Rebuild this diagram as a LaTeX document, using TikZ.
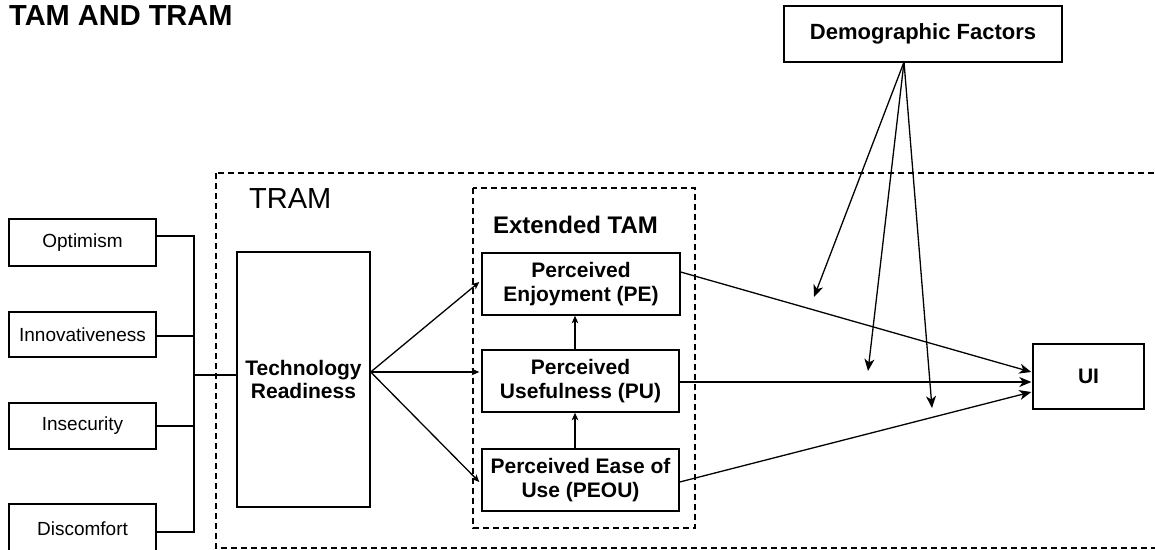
\documentclass[tikz,border=0pt]{standalone}
\usepackage{fontspec}
\setmainfont{Liberation Sans}
\usetikzlibrary{arrows.meta,calc}
\begin{document}
\begin{tikzpicture}[x=1pt,y=-1pt,
  box/.style={draw,line width=1.4pt,inner sep=0pt,align=center,
    font=\fontsize{21}{23.5}\selectfont\bfseries},
  factor/.style={draw,line width=1.4pt,inner sep=0pt,minimum width=147pt,
    font=\fontsize{19}{22}\selectfont},
  frame/.style={line width=1.1pt,dash pattern=on 6pt off 4pt},
  link/.style={line width=1.3pt},
  small/.style={link,-{Stealth[length=7.5pt,width=6.5pt,inset=2pt]}},
  big/.style={link,-{Stealth[length=12pt,width=10pt,inset=3.5pt]}}]
\clip (0,0) rectangle (1155,549);

% title and frames
\node[anchor=base west,inner sep=0pt,font=\fontsize{29}{32}\selectfont\bfseries] (title) at (9,25) {TAM AND TRAM};
\draw[frame] (216,173) rectangle (1175,548);
\node[anchor=base west,inner sep=0pt,font=\fontsize{29}{32}\selectfont] (tram) at (249,208) {TRAM};
\draw[frame] (473,188) rectangle (695,528);
\node[anchor=base,inner sep=0pt,font=\fontsize{24}{26}\selectfont\bfseries] (etam) at (575.5,233) {Extended TAM};

% technology readiness dimensions
\node[factor,minimum height=47pt] (opt) at (82.5,242.5) {Optimism};
\node[factor,minimum height=45pt] (inn) at (82.5,334.5) {Innovativeness};
\node[factor,minimum height=46pt] (ins) at (82.5,426) {Insecurity};
\node[factor,minimum height=50pt] (dis) at (82.5,529) {Discomfort};

% model constructs
\node[box,minimum width=133pt,minimum height=255pt] (tr) at (303.5,379.5) {Technology\\Readiness};
\node[box,minimum width=198pt,minimum height=62pt] (pe) at (581,284) {Perceived\\Enjoyment (PE)};
\node[box,minimum width=197pt,minimum height=62pt] (pu) at (580.5,381) {Perceived\\Usefulness (PU)};
\node[box,minimum width=197pt,minimum height=62pt] (peou) at (580.5,480) {Perceived Ease of\\Use (PEOU)};
\node[box,minimum width=111pt,minimum height=65pt] (ui) at (1088.5,376.5) {UI};
\node[box,minimum width=278pt,minimum height=56pt,font=\fontsize{22}{24}\selectfont\bfseries] (demo) at (923,34) {Demographic Factors};

% bracket joining the four dimensions
\coordinate (b1) at (194,236);
\coordinate (b2) at (194,336);
\coordinate (b3) at (194,426);
\coordinate (b4) at (194,532);
\coordinate (bm) at (194,375);
\draw[link] (opt.east |- b1) -- (b1) -- (b4) -- (dis.east |- b4);
\draw[link] (inn.east |- b2) -- (b2);
\draw[link] (ins.east |- b3) -- (b3);
\draw[link] (bm) -- (tr.west |- bm);

% readiness to the extended TAM
\coordinate (tro) at ($(tr.east)+(0,-7.5)$);
\draw[small] (tro) -- ($(pe.west)+(-2,-2)$);
\draw[small] (tro) -- ($(pu.west)+(-2,-9)$);
\draw[small] (tro) -- ($(peou.west)+(-2,2)$);
\coordinate (vx) at (575,0);
\draw[small] (vx |- pu.north) -- (vx |- pe.south);
\draw[small] (vx |- peou.north) -- (vx |- pu.south);

% constructs to usage intention
\draw[big] ($(pe.east)+(0,-12)$) -- ($(ui.west)+(-1,-4.5)$);
\draw[big] ($(pu.east)+(0,1)$) -- ($(ui.west)+(-1,5.5)$);
\draw[big] ($(peou.east)+(0,2)$) -- ($(ui.west)+(-1,15.5)$);

% moderating demographic factors
\coordinate (apex) at (904,62);
\coordinate (m1) at (814,297);
\coordinate (m2) at (868,371);
\coordinate (m3) at (932,408);
\draw[big] (apex) -- (m1);
\draw[big] (apex) -- (m2);
\draw[big] (apex) -- (m3);
\end{tikzpicture}
\end{document}
